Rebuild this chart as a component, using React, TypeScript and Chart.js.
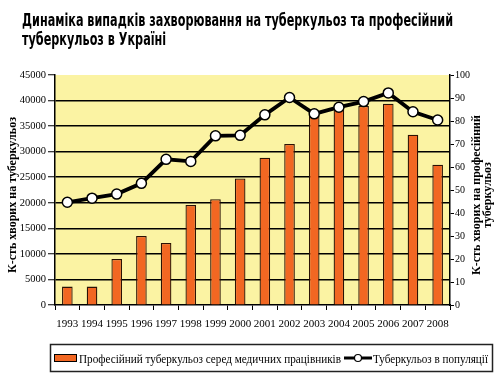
import React, { useEffect, useRef } from 'react';
import { Chart, registerables } from 'chart.js';

Chart.register(...registerables);

const years = ['1993', '1994', '1995', '1996', '1997', '1998', '1999', '2000', '2001', '2002', '2003', '2004', '2005', '2006', '2007', '2008'];
const profTB = [8, 8, 20, 30, 27, 43.5, 46, 55, 64, 70, 82.5, 86, 86.5, 87.5, 74, 61];
const popTB = [20100, 20900, 21700, 23800, 28500, 28100, 33100, 33200, 37200, 40600, 37400, 38700, 39800, 41500, 37800, 36200];

const titleLines = ['Динаміка випадків захворювання на туберкульоз та професійний', 'туберкульоз в Україні'];
const leftAxisTitle = 'К-сть хворих на туберкульоз';
const rightAxisTitle = ['К-сть хворих на професійний', 'туберкульоз'];
const barLabel = 'Професійний туберкульоз серед медичних працівників';
const lineLabel = 'Туберкульоз в популяції';

const PLOT_BG = '#FBF3A3';
const BAR_COLOR = '#F26722';
const SERIF = '"Liberation Serif", "Times New Roman", serif';
const TITLE_FONT = 'bold 17px "Liberation Sans Narrow", "DejaVu Sans Condensed", "Liberation Sans", sans-serif';

function fitText(ctx: CanvasRenderingContext2D, text: string, x: number, y: number, sx: number) {
  ctx.save();
  ctx.translate(x, y);
  ctx.scale(sx, 1);
  ctx.fillText(text, 0, 0);
  ctx.restore();
}

const decor = {
  id: 'decor',
  beforeDraw(chart: any) {
    const { ctx, chartArea: a } = chart;
    ctx.save();
    ctx.fillStyle = PLOT_BG;
    ctx.fillRect(a.left, a.top, a.right - a.left, a.bottom - a.top);
    ctx.restore();
  },
  afterDraw(chart: any) {
    const ctx: CanvasRenderingContext2D = chart.ctx;
    ctx.save();
    ctx.fillStyle = '#000';
    ctx.textAlign = 'left';
    ctx.textBaseline = 'alphabetic';
    // title
    ctx.font = TITLE_FONT;
    const w1 = ctx.measureText(titleLines[0]).width;
    const sx = Math.min(1.2, 431 / w1);
    fitText(ctx, titleLines[0], 22, 26, sx);
    fitText(ctx, titleLines[1], 22, 45, sx);

    // axis titles
    ctx.font = 'bold 12px ' + SERIF;
    ctx.textAlign = 'center';
    ctx.textBaseline = 'middle';
    ctx.save();
    ctx.translate(13, 195);
    ctx.rotate(-Math.PI / 2);
    ctx.fillText(leftAxisTitle, 0, 0);
    ctx.restore();
    ctx.save();
    ctx.translate(477, 195);
    ctx.rotate(-Math.PI / 2);
    ctx.fillText(rightAxisTitle[0], 0, 0);
    ctx.restore();
    ctx.save();
    ctx.translate(488, 195);
    ctx.rotate(-Math.PI / 2);
    ctx.fillText(rightAxisTitle[1], 0, 0);
    ctx.restore();

    // legend box
    ctx.strokeStyle = '#222';
    ctx.lineWidth = 1.5;
    ctx.strokeRect(50.5, 344.5, 442, 27);
    // bar swatch
    ctx.fillStyle = BAR_COLOR;
    ctx.fillRect(54, 354, 23, 8);
    ctx.lineWidth = 1;
    ctx.strokeStyle = '#000';
    ctx.strokeRect(54.5, 354.5, 22, 7);
    ctx.fillStyle = '#000';
    ctx.textAlign = 'left';
    ctx.textBaseline = 'alphabetic';
    ctx.font = '13px ' + SERIF;
    const wb = ctx.measureText(barLabel).width;
    fitText(ctx, barLabel, 79, 363, 262 / wb);
    // line swatch
    ctx.strokeStyle = '#000';
    ctx.lineWidth = 3;
    ctx.beginPath();
    ctx.moveTo(344, 358);
    ctx.lineTo(372, 358);
    ctx.stroke();
    ctx.beginPath();
    ctx.arc(358, 358, 3.5, 0, Math.PI * 2);
    ctx.fillStyle = '#fff';
    ctx.fill();
    ctx.lineWidth = 1.2;
    ctx.stroke();
    ctx.fillStyle = '#000';
    const wl = ctx.measureText(lineLabel).width;
    fitText(ctx, lineLabel, 373, 363, 115 / wl);
    ctx.restore();
  },
};

export default function App() {
  const ref = useRef<HTMLCanvasElement | null>(null);
  useEffect(() => {
    if (!ref.current) return;
    const chart = new Chart(ref.current, {
      type: 'bar',
      data: {
        labels: years,
        datasets: [
          {
            type: 'line',
            label: lineLabel,
            data: popTB,
            yAxisID: 'y',
            borderColor: '#000',
            borderWidth: 3.8,
            pointRadius: 5,
            pointBackgroundColor: '#fff',
            pointBorderColor: '#000',
            pointBorderWidth: 1.5,
            tension: 0,
            order: 0,
          } as any,
          {
            type: 'bar',
            label: barLabel,
            data: profTB,
            yAxisID: 'y1',
            backgroundColor: BAR_COLOR,
            borderColor: '#2a1205',
            borderWidth: 1.3,
            barPercentage: 0.43,
            categoryPercentage: 1,
            order: 1,
          },
        ],
      },
      options: {
        responsive: false,
        animation: false,
        layout: { padding: { top: 75, bottom: 55, left: 0, right: 0 } },
        plugins: { legend: { display: false }, tooltip: { enabled: false }, title: { display: false } },
        scales: {
          x: {
            grid: { display: true, drawOnChartArea: false, offset: true, tickLength: 5, tickColor: '#000', tickWidth: 1 },
            border: { color: '#000', width: 1.5 },
            ticks: { font: { family: SERIF, size: 11 }, color: '#000', padding: 8, maxRotation: 0, autoSkip: false },
            afterFit: (s: any) => { s.height = 28; },
          },
          y: {
            position: 'left',
            min: 0,
            max: 45000,
            ticks: { stepSize: 5000, font: { family: SERIF, size: 10.5 }, color: '#000', padding: 2, callback: (v: any) => String(v) },
            grid: {
              color: (c: any) => (c.tick && (c.tick.value === 0 || c.tick.value === 45000) ? 'rgba(0,0,0,0)' : '#000'),
              lineWidth: 1.5,
              tickLength: 7,
              tickColor: '#000',
              tickWidth: 1,
            },
            border: { color: '#000', width: 1.5 },
            afterFit: (s: any) => { s.width = 55; },
          },
          y1: {
            position: 'right',
            min: 0,
            max: 100,
            ticks: { stepSize: 10, font: { family: SERIF, size: 10 }, color: '#000', padding: 1, callback: (v: any) => String(v) },
            grid: { drawOnChartArea: false, tickLength: 4, tickColor: '#000', tickWidth: 1 },
            border: { color: '#000', width: 1.5 },
            afterFit: (s: any) => { s.width = 50; },
          },
        },
      },
      plugins: [decor],
    });
    return () => chart.destroy();
  }, []);
  return (
    <div style={{ position: 'fixed', left: 0, top: 0, width: 500, height: 388, background: '#fff' }}>
      <canvas ref={ref} width={500} height={388} />
    </div>
  );
}
